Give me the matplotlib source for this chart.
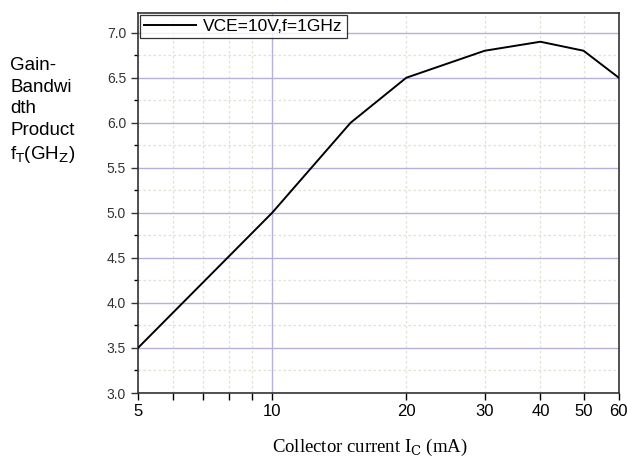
import numpy as np
import matplotlib.pyplot as plt
from matplotlib.ticker import FixedLocator, FuncFormatter, MultipleLocator

# Data
ic_ma = [5, 10, 15, 20, 30, 40, 50, 60]
ft_ghz = [3.5, 5.0, 6.0, 6.5, 6.8, 6.9, 6.8, 6.5]

x_major = [10]
x_minor = [5, 6, 7, 8, 9, 20, 30, 40, 50, 60]
x_labeled = [5, 20, 30, 40, 50, 60]

plt.rcParams['font.family'] = ['Liberation Sans', 'DejaVu Sans']

fig = plt.figure(figsize=(6.27, 4.61), dpi=100)
ax = fig.add_axes([0.220, 0.1475, 0.767, 0.8245])

ax.plot(ic_ma, ft_ghz, color='black', lw=1.4, label='VCE=10V,f=1GHz', zorder=3)

ax.set_xscale('log')
ax.set_xlim(5, 60)
ax.set_ylim(3.0, 7.22)

ax.xaxis.set_major_locator(FixedLocator(x_major))
ax.xaxis.set_minor_locator(FixedLocator(x_minor))
ax.xaxis.set_major_formatter(FuncFormatter(lambda v, p: f"{int(round(v))}"))
ax.xaxis.set_minor_formatter(FuncFormatter(
    lambda v, p: f"{int(round(v))}" if int(round(v)) in x_labeled else ""))

ax.yaxis.set_major_locator(MultipleLocator(0.5))
ax.yaxis.set_minor_locator(MultipleLocator(0.25))
ax.yaxis.set_major_formatter(FuncFormatter(lambda v, p: f"{v:.1f}"))

ax.tick_params(axis='x', which='both', direction='out', length=5, width=1,
               labelsize=12, pad=3)
ax.tick_params(axis='y', which='major', direction='out', length=5, width=1,
               labelsize=10, colors='#333333')
ax.tick_params(axis='y', which='minor', direction='out', length=3, width=1)

ax.grid(which='major', color='#b4b2da', lw=1.0, ls='-', zorder=0)
ax.grid(which='minor', color='#dce4d6', lw=0.9, ls=(0, (2, 2)), zorder=0)

for s in ax.spines.values():
    s.set_linewidth(1.2)
    s.set_color('#333333')

leg = ax.legend(loc='upper left', fontsize=12.5, frameon=True, fancybox=False,
                edgecolor='black', handlelength=3.0, borderpad=0.25,
                borderaxespad=0.1, handletextpad=0.4)
leg.get_frame().set_linewidth(0.9)

fig.text(0.016, 0.876, "Gain-\nBandwi\ndth\nProduct\nf$_\\mathrm{T}$(GH$_\\mathrm{Z}$)",
         fontsize=13.5, ha='left', va='top', linespacing=1.35)

fig.text(0.59, 0.02, "Collector current I$_\\mathrm{C}$ (mA)",
         fontsize=13.5, ha='center', va='baseline', family='Liberation Serif',
         math_fontfamily='dejavuserif')

fig.savefig('out.png', dpi=100)
